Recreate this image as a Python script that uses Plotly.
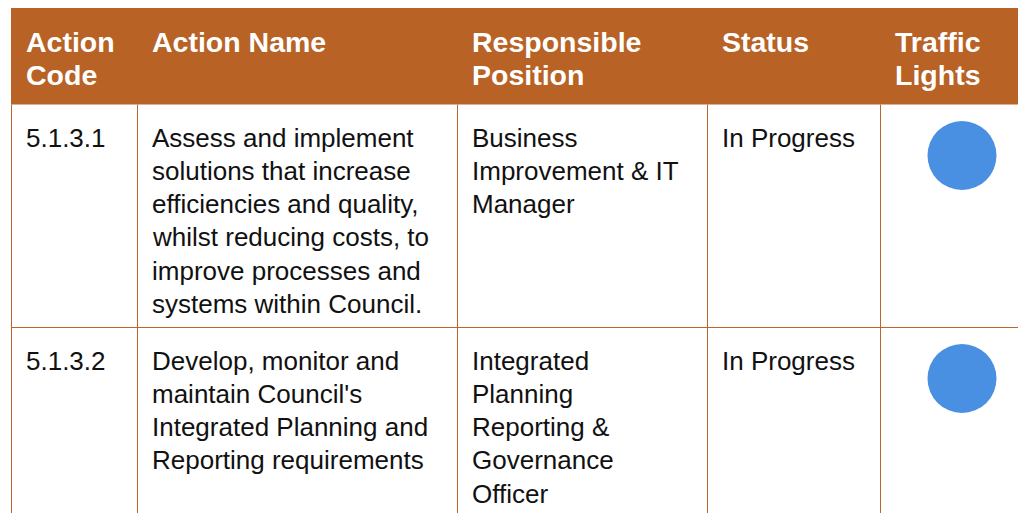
import math
import plotly.graph_objects as go

# ---- data ----
headers = [["Action", "Code"], ["Action Name"], ["Responsible", "Position"],
           ["Status"], ["Traffic", "Lights"]]
action_codes = ["5.1.3.1", "5.1.3.2"]
action_names = [
    ["Assess and implement", "solutions that increase", "efficiencies and quality,",
     "whilst reducing costs, to", "improve processes and", "systems within Council."],
    ["Develop, monitor and", "maintain Council's", "Integrated Planning and",
     "Reporting requirements"],
]
responsible = [
    ["Business", "Improvement & IT", "Manager"],
    ["Integrated", "Planning", "Reporting &", "Governance", "Officer"],
]
status = ["In Progress", "In Progress"]
traffic_lights = ["#4A90E2", "#4A90E2"]

# ---- layout / style constants ----
W, H = 1026, 513
PAGE_OFF = 8  # default page body margin; axes expressed in page pixels
ORANGE = "#B86226"
LINE = "#B8662C"
TEXT = "#111111"
FONT = "Liberation Sans, Arial, sans-serif"
HDR_SIZE, BODY_SIZE = 28.5, 26
ASC = 0.905  # font ascent (em)
table_left = 11
col_widths = [126, 320, 250, 173, 164]
header_top, header_bot = 6, 104.5
row_h = 223
row_tops = [header_bot + i * row_h for i in range(len(action_codes))]
text_pad = 14
hdr_base, hdr_step = 44.7, 33.4
body_base, body_step = 41.2, 33.1

col_lefts = [table_left]
for w in col_widths[:-1]:
    col_lefts.append(col_lefts[-1] + w)

fig = go.Figure()
shapes, annots = [], []

# header band
shapes.append(dict(type="rect", xref="x", yref="y", x0=table_left, x1=W + 40,
                   y0=header_top, y1=header_bot, fillcolor=ORANGE, line=dict(width=0),
                   layer="below"))
# vertical grid lines (body only)
for xl in col_lefts:
    shapes.append(dict(type="line", xref="x", yref="y", x0=xl + 0.5, x1=xl + 0.5,
                       y0=header_bot, y1=H + 20, line=dict(color=LINE, width=1)))
# horizontal separators between rows
for rt in row_tops[1:]:
    yl = math.floor(rt) + 0.5
    shapes.append(dict(type="line", xref="x", yref="y", x0=table_left, x1=W + 40,
                       y0=yl, y1=yl, line=dict(color=LINE, width=1)))


def add_lines(lines, x, y_first_base, step, size, color, bold=False):
    for k, line in enumerate(lines):
        base = y_first_base + k * step
        annots.append(dict(
            x=x, y=base - ASC * size, xref="x", yref="y", xanchor="left", yanchor="top",
            text=("<b>%s</b>" % line) if bold else line, showarrow=False, borderpad=0,
            font=dict(family=FONT, size=size, color=color)))


# header text
for ci, h in enumerate(headers):
    add_lines(h, col_lefts[ci] + text_pad, header_top + hdr_base, hdr_step,
              HDR_SIZE, "white", bold=True)

# body text
body_cols = [[[c] for c in action_codes], action_names, responsible, [[s] for s in status]]
for ci, col in enumerate(body_cols):
    for ri, lines in enumerate(col):
        add_lines(lines, col_lefts[ci] + text_pad, row_tops[ri] + body_base, body_step,
                  BODY_SIZE, TEXT)

# traffic-light circles
light_x = [col_lefts[4] + col_widths[4] / 2 for _ in traffic_lights]
light_y = [rt + 51 for rt in row_tops]
fig.add_trace(go.Scatter(
    x=light_x, y=light_y, mode="markers", hoverinfo="skip",
    marker=dict(size=69, color=traffic_lights, line=dict(width=0)),
    showlegend=False,
))

fig.update_layout(
    width=W, height=H, margin=dict(l=0, r=0, t=0, b=0),
    paper_bgcolor="white", plot_bgcolor="white",
    xaxis=dict(range=[PAGE_OFF, W + PAGE_OFF], visible=False, fixedrange=True),
    yaxis=dict(range=[H + PAGE_OFF, PAGE_OFF], visible=False, fixedrange=True),
    shapes=shapes, annotations=annots, showlegend=False,
)
fig.write_html("out.html")
